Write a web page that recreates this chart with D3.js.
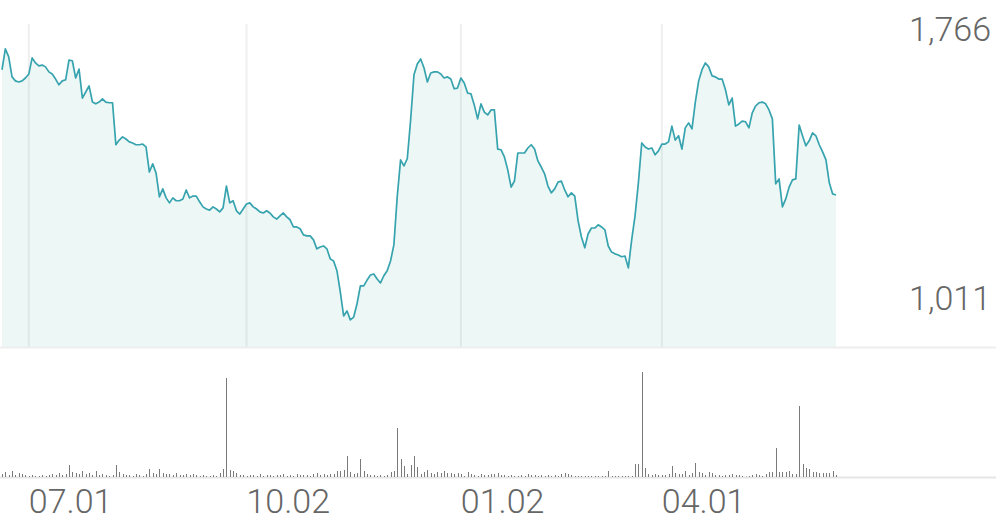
<!DOCTYPE html>
<html>
<head>
<meta charset="utf-8">
<script src="https://cdn.jsdelivr.net/npm/d3@7"></script>
<style>
  html, body { margin: 0; padding: 0; background: #fff; }
  svg { display: block; }
  text { font-family: Roboto, "Noto Sans", sans-serif; font-weight: 300; fill: #666; }
</style>
</head>
<body>
<svg id="chart" width="996" height="519"></svg>
<script>
// ---- data ----
const prices = [
  1708,1766,1744,1688,1677,1674,1677,1685,1696,1741,
  1727,1719,1721,1716,1702,1696,1682,1666,1677,1680,
  1735,1733,1685,1710,1629,1646,1663,1618,1613,1618,
  1627,1618,1616,1616,1499,1512,1521,1515,1507,1504,
  1499,1499,1501,1493,1423,1446,1420,1354,1376,1351,
  1337,1351,1343,1343,1348,1373,1351,1356,1356,1340,
  1326,1320,1317,1326,1320,1312,1323,1384,1337,1343,
  1315,1306,1320,1334,1337,1326,1320,1312,1309,1315,
  1309,1298,1292,1301,1309,1298,1290,1270,1270,1265,
  1248,1245,1245,1234,1209,1214,1217,1209,1181,1175,
  1148,1089,1022,1036,1011,1019,1056,1106,1106,1122,
  1136,1139,1125,1114,1134,1148,1175,1220,1354,1457,
  1440,1460,1568,1694,1724,1738,1713,1674,1699,1702,
  1702,1696,1685,1688,1682,1655,1657,1685,1671,1643,
  1641,1610,1571,1613,1590,1582,1596,1596,1487,1485,
  1465,1429,1381,1398,1476,1476,1476,1490,1499,1487,
  1454,1437,1418,1384,1365,1376,1395,1398,1373,1354,
  1365,1356,1287,1242,1212,1251,1267,1267,1276,1270,
  1262,1217,1200,1195,1192,1187,1189,1156,1234,1301,
  1393,1504,1493,1487,1490,1471,1482,1501,1501,1507,
  1551,1512,1524,1487,1546,1560,1543,1618,1677,1708,
  1727,1716,1691,1688,1682,1682,1652,1610,1629,1551,
  1557,1565,1563,1546,1588,1607,1616,1618,1613,1596,
  1571,1390,1404,1326,1348,1381,1401,1404,1554,1524,
  1496,1510,1532,1524,1499,1479,1457,1393,1362,1359
];
const volumes = [
  3,5,2,6,2,4,3,2,1,2,
  1,1,2,1,2,3,2,4,2,3,
  12,5,4,3,6,3,4,2,6,2,
  3,2,1,2,12,5,3,2,2,1,
  3,2,1,3,8,4,3,8,4,3,
  3,2,4,2,2,3,2,3,2,1,
  2,1,1,2,1,4,8,99,7,6,
  4,2,2,1,2,2,1,3,1,2,
  2,1,2,2,3,1,2,1,3,2,
  2,2,1,3,4,2,3,2,3,3,
  6,6,7,21,5,3,4,18,6,3,
  2,2,1,2,1,2,5,6,49,18,
  11,3,12,21,10,3,5,7,4,3,
  5,4,6,4,4,3,4,3,1,5,
  3,2,1,3,2,2,3,3,4,2,
  2,1,2,1,1,2,1,3,2,2,
  1,2,1,2,1,2,1,3,4,3,
  2,1,1,1,1,1,1,1,1,1,
  1,6,1,1,1,1,1,1,1,13,
  13,105,9,3,2,3,2,2,2,3,
  11,4,3,3,6,2,4,14,5,4,
  2,5,4,2,2,1,2,2,3,2,
  2,1,0.5,1,2,3,2,1,3,5,
  5,29,5,5,5,6,3,3,71,13,
  9,8,5,5,4,4,4,4,6,2
];
const tickLabels = ["07.01", "10.02", "01.02", "04.01"];
const tickIndex = [8, 73, 137, 197];

// ---- layout ----
const W = 996, H = 519;
const svg = d3.select("#chart");
const n = prices.length;
const pMax = d3.max(prices), pMin = d3.min(prices), pr = pMax - pMin;

const x = d3.scaleLinear().domain([0, n - 1]).range([2, 836]);
const y = d3.scaleLinear().domain([pMin - 0.1 * pr, pMax + 0.092 * pr]).range([347, 24]);
const vy = d3.scaleLinear().domain([0, d3.max(volumes)]).range([477, 372]);

// vertical grid
svg.append("g").selectAll("line").data(tickIndex).join("line")
  .attr("x1", d => x(d)).attr("x2", d => x(d))
  .attr("y1", 24).attr("y2", 347)
  .attr("stroke", "#efefef").attr("stroke-width", 2);

// area
const area = d3.area().x((d, i) => x(i)).y0(347).y1(d => y(d));
svg.append("path").datum(prices).attr("d", area)
  .attr("fill", "rgba(80,175,165,0.10)");

// line
const line = d3.line().x((d, i) => x(i)).y(d => y(d));
svg.append("path").datum(prices).attr("d", line)
  .attr("fill", "none").attr("stroke", "#36a3ae").attr("stroke-width", 1.7)
  .attr("stroke-linejoin", "round");

// separators
svg.append("line").attr("x1", 0).attr("x2", W).attr("y1", 347.5).attr("y2", 347.5)
  .attr("stroke", "#eeeeee").attr("stroke-width", 2);
svg.append("line").attr("x1", 0).attr("x2", W).attr("y1", 477.5).attr("y2", 477.5)
  .attr("stroke", "#e6e6e6").attr("stroke-width", 2);

// volume bars
svg.append("g").selectAll("line").data(volumes).join("line")
  .attr("x1", (d, i) => Math.round(x(i)) + 0.5).attr("x2", (d, i) => Math.round(x(i)) + 0.5)
  .attr("y1", vy(0)).attr("y2", d => vy(d))
  .attr("stroke", "#7a7a7a").attr("stroke-width", 1);

// price labels
const fmt = d3.format(",");
svg.append("text").attr("x", 991).attr("y", 41).attr("text-anchor", "end")
  .attr("font-size", 34).text(fmt(pMax));
svg.append("text").attr("x", 991).attr("y", 310).attr("text-anchor", "end")
  .attr("font-size", 34).text(fmt(pMin));

// x labels
svg.append("g").selectAll("text").data(tickIndex).join("text")
  .attr("x", d => x(d)).attr("y", 513).attr("font-size", 34)
  .text((d, i) => tickLabels[i]);
</script>
</body>
</html>
